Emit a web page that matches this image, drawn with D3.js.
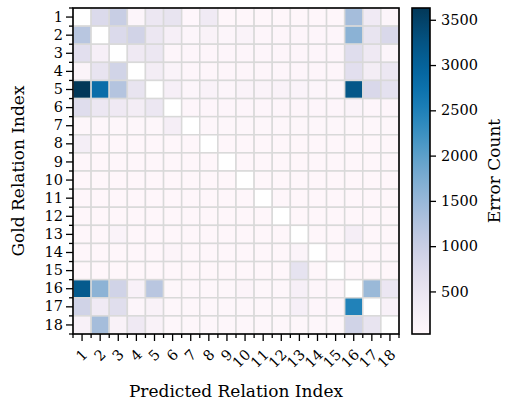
<!DOCTYPE html>
<html>
<head>
<meta charset="utf-8">
<script src="https://cdn.jsdelivr.net/npm/d3@7"></script>
<style>
  body { margin: 0; background: #fff; }
</style>
</head>
<body>
<div id="chart"></div>
<script>
// relation indices shown on both axes
const labels = d3.range(1, 19).map(String);

// error counts, row = gold relation, column = predicted relation (null = diagonal)
const row1 = [null, 750, 1000, 100, 460, 530, 50, 380, 60, 60, 60, 60, 60, 60, 60, 1380, 380, 100];
const row2 = [1180, null, 750, 890, 460, 240, 90, 180, 90, 140, 80, 80, 80, 80, 80, 1620, 530, 780];
const row3 = [640, 240, null, 400, 460, 80, 80, 80, 80, 80, 80, 80, 80, 80, 80, 680, 400, 100];
const row4 = [120, 530, 880, null, 300, 140, 80, 80, 80, 80, 80, 80, 80, 80, 80, 640, 300, 450];
const row5 = [3630, 2800, 1230, 530, null, 240, 90, 180, 90, 140, 140, 180, 140, 90, 90, 3200, 780, 600];
const row6 = [680, 460, 400, 300, 460, null, 80, 80, 80, 80, 80, 80, 80, 80, 80, 140, 80, 80];
const row7 = [70, 70, 70, 70, 70, 270, null, 70, 70, 70, 70, 70, 70, 70, 70, 70, 70, 70];
const row8 = [280, 60, 60, 60, 60, 60, 60, null, 60, 60, 60, 60, 60, 60, 60, 60, 60, 60];
const row9 = [60, 60, 60, 60, 60, 60, 60, 60, null, 60, 60, 60, 60, 60, 60, 60, 60, 60];
const row10 = [60, 60, 60, 60, 60, 60, 60, 60, 60, null, 60, 60, 60, 60, 60, 60, 60, 60];
const row11 = [60, 60, 60, 60, 60, 60, 60, 60, 60, 60, null, 60, 60, 60, 60, 60, 60, 60];
const row12 = [60, 60, 60, 60, 60, 60, 60, 60, 60, 60, 60, null, 60, 60, 60, 60, 60, 60];
const row13 = [60, 60, 140, 60, 60, 60, 60, 60, 60, 60, 60, 60, null, 60, 60, 270, 60, 60];
const row14 = [60, 60, 60, 60, 60, 110, 60, 60, 60, 60, 60, 60, 120, null, 60, 60, 60, 60];
const row15 = [60, 60, 60, 60, 60, 60, 60, 60, 60, 60, 60, 60, 560, 60, null, 60, 60, 60];
const row16 = [3150, 1600, 900, 200, 1170, 70, 70, 70, 70, 110, 70, 70, 240, 80, 80, null, 1480, 480];
const row17 = [900, 380, 660, 90, 180, 70, 70, 70, 70, 70, 70, 70, 240, 80, 80, 2480, null, 200];
const row18 = [200, 1380, 180, 400, 180, 70, 70, 70, 70, 70, 70, 70, 70, 70, 70, 900, 530, null];
const matrix = [row1, row2, row3, row4, row5, row6, row7, row8, row9,
  row10, row11, row12, row13, row14, row15, row16, row17, row18];

const colorDomain = [30, 3630];
const colorTicks = [500, 1000, 1500, 2000, 2500, 3000, 3500];

const width = 507;
const height = 400;
const plot = {left: 73, top: 8, size: 326};
const bar = {left: 412, width: 18};
const serif = '"DejaVu Serif", serif';

const svg = d3.select('#chart').append('svg')
  .attr('width', width)
  .attr('height', height);

const x = d3.scaleBand().domain(labels).range([plot.left, plot.left + plot.size]);
const y = d3.scaleBand().domain(labels).range([plot.top, plot.top + plot.size]);
const color = d3.scaleSequential(d3.interpolatePuBu).domain(colorDomain);

const cells = [];
matrix.forEach((row, i) => row.forEach((v, j) => cells.push({gold: labels[i], pred: labels[j], v})));

svg.append('g').selectAll('rect')
  .data(cells)
  .join('rect')
  .attr('x', d => x(d.pred))
  .attr('y', d => y(d.gold))
  .attr('width', x.bandwidth())
  .attr('height', y.bandwidth())
  .attr('fill', d => d.v == null ? '#fff' : color(d.v))
  .attr('stroke', '#d9d9d9')
  .attr('stroke-width', 1.5);

// minor ticks sit on the cell edges
const edges = d3.range(labels.length + 1).map(k => plot.left + k * x.step());
const edgesY = d3.range(labels.length + 1).map(k => plot.top + k * y.step());

const xAxis = svg.append('g')
  .attr('transform', `translate(0,${plot.top + plot.size})`)
  .call(d3.axisBottom(x).tickSize(7).tickPadding(5));
xAxis.selectAll('text')
  .attr('font-size', 14.5)
  .attr('text-anchor', 'end')
  .attr('dy', '0.35em')
  .attr('transform', function() {
    return `translate(3,6) rotate(-45 0 ${this.getAttribute('y')})`;
  });
xAxis.append('g').selectAll('line')
  .data(edges)
  .join('line')
  .attr('x1', d => d).attr('x2', d => d)
  .attr('y1', 0).attr('y2', 4)
  .attr('stroke', '#000');

const yAxis = svg.append('g')
  .attr('transform', `translate(${plot.left},0)`)
  .call(d3.axisLeft(y).tickSize(7).tickPadding(3));
yAxis.selectAll('text').attr('font-size', 14.5);
yAxis.append('g').selectAll('line')
  .data(edgesY)
  .join('line')
  .attr('y1', d => d).attr('y2', d => d)
  .attr('x1', 0).attr('x2', -4)
  .attr('stroke', '#000');

[xAxis, yAxis].forEach(g => {
  g.selectAll('.domain').remove();
  g.selectAll('line').attr('stroke-width', 1.3);
});

svg.append('rect')
  .attr('x', plot.left).attr('y', plot.top)
  .attr('width', plot.size).attr('height', plot.size)
  .attr('fill', 'none').attr('stroke', '#000').attr('stroke-width', 1.6);

svg.append('text')
  .attr('x', plot.left + plot.size / 2)
  .attr('y', 397)
  .attr('text-anchor', 'middle')
  .attr('font-size', 17)
  .text('Predicted Relation Index');

svg.append('text')
  .attr('transform', `translate(24,${plot.top + plot.size / 2}) rotate(-90)`)
  .attr('text-anchor', 'middle')
  .attr('font-size', 17)
  .text('Gold Relation Index');

// colorbar
const cy = d3.scaleLinear().domain(colorDomain).range([plot.top + plot.size, plot.top]);
const grad = svg.append('defs').append('linearGradient')
  .attr('id', 'cbar').attr('x1', 0).attr('y1', 1).attr('x2', 0).attr('y2', 0);
grad.selectAll('stop')
  .data(d3.range(0, 1.0001, 0.05))
  .join('stop')
  .attr('offset', d => d)
  .attr('stop-color', d => d3.interpolatePuBu(d));

svg.append('rect')
  .attr('x', bar.left).attr('y', plot.top)
  .attr('width', bar.width).attr('height', plot.size)
  .attr('fill', 'url(#cbar)')
  .attr('stroke', '#000').attr('stroke-width', 1.6);

const cAxis = svg.append('g')
  .attr('transform', `translate(${bar.left + bar.width},0)`)
  .call(d3.axisRight(cy).tickValues(colorTicks).tickFormat(d3.format('d')).tickSize(6).tickPadding(5));
cAxis.select('.domain').remove();
cAxis.selectAll('text').attr('font-size', 14.5);
cAxis.selectAll('line').attr('stroke-width', 1.3);

svg.append('text')
  .attr('transform', `translate(500,${plot.top + plot.size / 2}) rotate(-90)`)
  .attr('text-anchor', 'middle')
  .attr('font-size', 17)
  .text('Error Count');

// all text in the serif face
svg.selectAll('g').attr('font-family', null);
svg.selectAll('text').style('font-family', serif).attr('fill', '#000');
</script>
</body>
</html>
